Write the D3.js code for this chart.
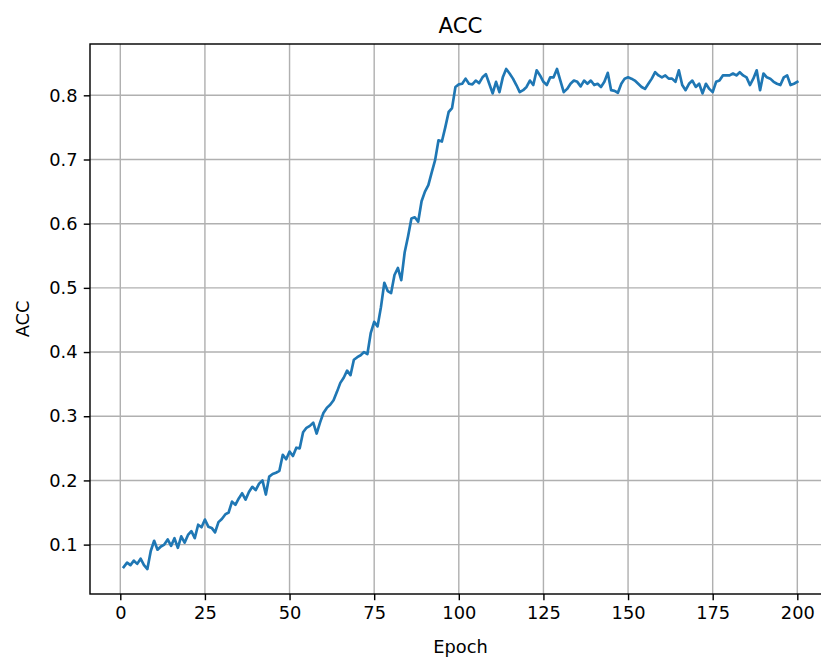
<!DOCTYPE html>
<html>
<head>
<meta charset="utf-8">
<script src="https://cdn.jsdelivr.net/npm/d3@7"></script>
<style>
  html, body { margin: 0; padding: 0; background: #fff; }
  svg { display: block; }
  text { font-family: "DejaVu Sans", sans-serif; fill: #000; }
</style>
</head>
<body>
<svg id="chart" width="821" height="659"></svg>
<script>
// accuracy per epoch
const epochs = d3.range(1, 201);
const accEarly = [
  0.065, 0.072, 0.068, 0.075, 0.070, 0.078, 0.068, 0.062, 0.090, 0.106,
  0.092, 0.097, 0.100, 0.108, 0.098, 0.110, 0.095, 0.113, 0.103, 0.115,
  0.121, 0.110, 0.131, 0.127, 0.139, 0.128, 0.126, 0.119, 0.135, 0.140,
  0.147, 0.150, 0.167, 0.162, 0.172, 0.180, 0.170, 0.182, 0.190, 0.185,
  0.195, 0.200, 0.178, 0.206, 0.210, 0.212, 0.215, 0.240, 0.233, 0.245
];
const accRise = [
  0.238, 0.251, 0.250, 0.275, 0.282, 0.285, 0.290, 0.273, 0.290, 0.305,
  0.313, 0.318, 0.325, 0.338, 0.352, 0.360, 0.371, 0.364, 0.388, 0.392,
  0.395, 0.400, 0.397, 0.430, 0.447, 0.440, 0.470, 0.508, 0.495, 0.492,
  0.520, 0.531, 0.512, 0.555, 0.580, 0.608, 0.610, 0.603, 0.635, 0.650,
  0.660, 0.680, 0.699, 0.730, 0.728, 0.750, 0.774, 0.780, 0.813, 0.817
];
const accPlateau = [
  0.818, 0.826, 0.818, 0.817, 0.823, 0.819, 0.828, 0.833, 0.818, 0.803,
  0.821, 0.805, 0.828, 0.841, 0.834, 0.826, 0.816, 0.805, 0.808, 0.813,
  0.823, 0.816, 0.839, 0.831, 0.821, 0.816, 0.828, 0.828, 0.841, 0.823,
  0.805, 0.810, 0.818, 0.823, 0.821, 0.814, 0.823, 0.818, 0.823, 0.816,
  0.818, 0.813, 0.821, 0.835, 0.808, 0.807, 0.804, 0.818, 0.826, 0.828,
  0.826, 0.823, 0.818, 0.813, 0.810, 0.818, 0.826, 0.836, 0.831, 0.828,
  0.831, 0.826, 0.826, 0.821, 0.839, 0.816, 0.808, 0.818, 0.823, 0.813,
  0.818, 0.803, 0.818, 0.810, 0.805, 0.821, 0.823, 0.831, 0.831, 0.831,
  0.834, 0.831, 0.836, 0.831, 0.828, 0.816, 0.826, 0.839, 0.808, 0.834,
  0.828, 0.826, 0.821, 0.818, 0.816, 0.828, 0.831, 0.816, 0.818, 0.821
];
const acc = accEarly.concat(accRise, accPlateau);
const xTicks = [0, 25, 50, 75, 100, 125, 150, 175, 200];
const yTicks = [0.1, 0.2, 0.3, 0.4, 0.5, 0.6, 0.7, 0.8];

const PT = 128.3 / 72;          // matplotlib points -> px at this size
const FONT = 10 * PT;
const MARGIN = { left: 90, top: 44, right: 831, bottom: 594 };

const svg = d3.select('#chart');

const xScale = d3.scaleLinear()
  .domain([1 - 0.05 * 199, 200 + 0.05 * 199])
  .range([MARGIN.left, MARGIN.right]);

const yMin = d3.min(acc), yMax = d3.max(acc);
const yPad = (yMax - yMin) * 0.05;
const yScale = d3.scaleLinear()
  .domain([yMin - yPad, yMax + yPad])
  .range([MARGIN.bottom, MARGIN.top]);

// grid
const grid = svg.append('g').attr('stroke', '#b0b0b0').attr('stroke-width', 0.8 * PT);
grid.selectAll('line.gx').data(xTicks).join('line')
  .attr('x1', d => xScale(d)).attr('x2', d => xScale(d))
  .attr('y1', MARGIN.top).attr('y2', MARGIN.bottom);
grid.selectAll('line.gy').data(yTicks).join('line')
  .attr('x1', MARGIN.left).attr('x2', MARGIN.right)
  .attr('y1', d => yScale(d)).attr('y2', d => yScale(d));

// line
const line = d3.line()
  .x((d, i) => xScale(epochs[i]))
  .y(d => yScale(d));

svg.append('path')
  .attr('d', line(acc))
  .attr('fill', 'none')
  .attr('stroke', '#1f77b4')
  .attr('stroke-width', 1.5 * PT)
  .attr('stroke-linejoin', 'round')
  .attr('stroke-linecap', 'square');

// axes
const xAxis = d3.axisBottom(xScale)
  .tickValues(xTicks)
  .tickSize(3.5 * PT)
  .tickPadding(3.5 * PT)
  .tickSizeOuter(0);

const yAxis = d3.axisLeft(yScale)
  .tickValues(yTicks)
  .tickFormat(d3.format('.1f'))
  .tickSize(3.5 * PT)
  .tickPadding(3.5 * PT)
  .tickSizeOuter(0);

const xAxisGroup = svg.append('g')
  .attr('transform', `translate(0, ${MARGIN.bottom})`)
  .call(xAxis);
const yAxisGroup = svg.append('g')
  .attr('transform', `translate(${MARGIN.left}, 0)`)
  .call(yAxis);

[xAxisGroup, yAxisGroup].forEach(g => {
  g.select('.domain').remove();
  g.selectAll('.tick line').attr('stroke', '#000').attr('stroke-width', 0.8 * PT);
  g.selectAll('.tick text')
    .style('font-family', '"DejaVu Sans", sans-serif')
    .style('font-size', FONT + 'px')
    .attr('fill', '#000');
});

// spines
svg.append('rect')
  .attr('x', MARGIN.left).attr('y', MARGIN.top)
  .attr('width', MARGIN.right - MARGIN.left)
  .attr('height', MARGIN.bottom - MARGIN.top)
  .attr('fill', 'none')
  .attr('stroke', '#000')
  .attr('stroke-width', 0.8 * PT);

// labels
const midX = (MARGIN.left + MARGIN.right) / 2;
svg.append('text')
  .attr('x', midX).attr('y', MARGIN.top - 6 * PT - 0.5)
  .attr('text-anchor', 'middle')
  .style('font-size', (12 * PT) + 'px')
  .text('ACC');

svg.append('text')
  .attr('x', midX).attr('y', 653)
  .attr('text-anchor', 'middle')
  .style('font-size', FONT + 'px')
  .text('Epoch');

svg.append('text')
  .attr('transform', `translate(29, ${(MARGIN.top + MARGIN.bottom) / 2}) rotate(-90)`)
  .attr('text-anchor', 'middle')
  .style('font-size', FONT + 'px')
  .text('ACC');
</script>
</body>
</html>
